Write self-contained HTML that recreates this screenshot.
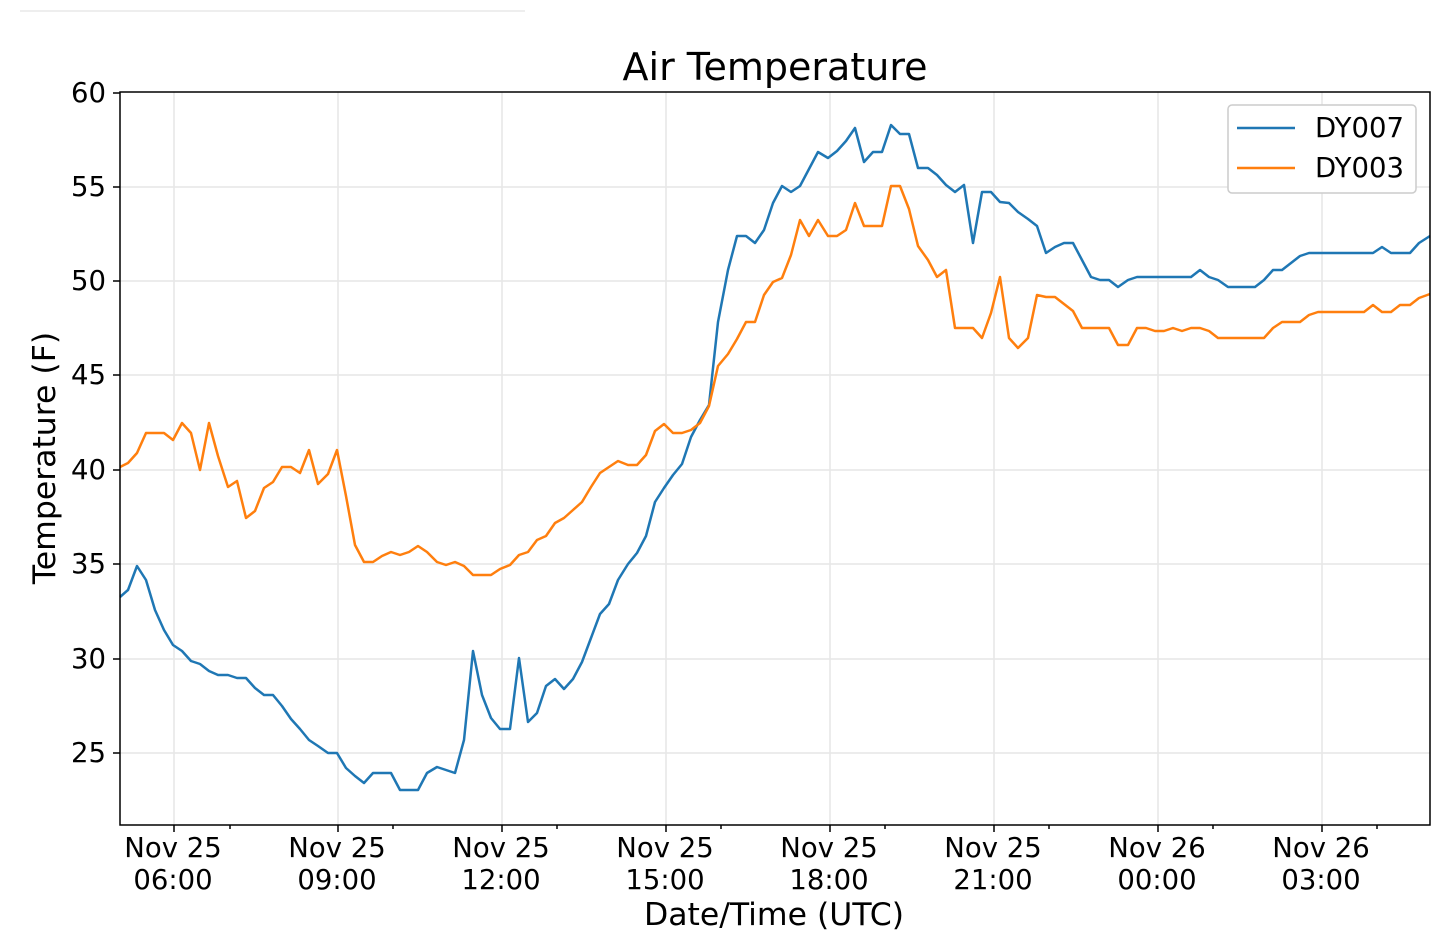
<!DOCTYPE html>
<html><head><meta charset="utf-8"><style>
body{margin:0;background:#fff;}
text{font-family:"DejaVu Sans","Liberation Sans",sans-serif;fill:#000;}
</style></head><body>
<svg width="1440" height="942" xmlns="http://www.w3.org/2000/svg">
<line x1="20" y1="11" x2="525" y2="11" stroke="#eee" stroke-width="2"/>
<g stroke="#e6e6e6" stroke-width="1.5">
<line x1="174" y1="92" x2="174" y2="825"/><line x1="338" y1="92" x2="338" y2="825"/><line x1="502" y1="92" x2="502" y2="825"/><line x1="666" y1="92" x2="666" y2="825"/><line x1="830" y1="92" x2="830" y2="825"/><line x1="994" y1="92" x2="994" y2="825"/><line x1="1158" y1="92" x2="1158" y2="825"/><line x1="1322" y1="92" x2="1322" y2="825"/>
<line x1="120" y1="187" x2="1430" y2="187"/><line x1="120" y1="281" x2="1430" y2="281"/><line x1="120" y1="375" x2="1430" y2="375"/><line x1="120" y1="470" x2="1430" y2="470"/><line x1="120" y1="564" x2="1430" y2="564"/><line x1="120" y1="659" x2="1430" y2="659"/><line x1="120" y1="753" x2="1430" y2="753"/>
</g>
<polyline fill="none" stroke="#1f77b4" stroke-width="2.5" stroke-linejoin="round" points="120,597 128,590 137,566 146,580 155,610 164,630 173,645 182,651 191,661 200,664 209,671 218,675 228,675 237,678 246,678 255,688 264,695 273,695 282,706 291,719 300,729 309,740 318,746 328,753 337,753 346,768 355,776 364,783 373,773 382,773 391,773 400,790 409,790 418,790 427,773 437,767 446,770 455,773 464,740 473,651 482,695 491,718 500,729 510,729 519,658 528,722 537,713 546,686 555,679 564,689 573,679 582,662 591,638 600,614 609,604 618,580 628,564 637,553 646,536 655,502 664,488 673,475 682,464 691,437 700,420 709,405 718,322 728,270 737,236 746,236 755,243 764,230 773,203 782,186 791,192 800,186 809,169 818,152 828,158 837,151 846,141 855,128 864,162 873,152 882,152 891,125 900,134 909,134 918,168 928,168 937,175 946,185 955,192 964,185 973,243 982,192 991,192 1000,202 1009,203 1018,212 1028,219 1037,226 1046,253 1055,247 1064,243 1073,243 1082,260 1091,277 1100,280 1109,280 1118,287 1128,280 1137,277 1146,277 1191,277 1200,270 1209,277 1218,280 1228,287 1255,287 1264,280 1273,270 1282,270 1291,263 1300,256 1309,253 1373,253 1382,247 1391,253 1410,253 1419,243 1430,236"/>
<polyline fill="none" stroke="#ff7f0e" stroke-width="2.5" stroke-linejoin="round" points="120,467 128,463 137,453 146,433 155,433 164,433 173,440 182,423 191,433 200,470 209,423 218,456 228,487 237,481 246,518 255,511 264,488 273,482 282,467 291,467 300,473 309,450 318,484 328,474 337,450 346,496 355,545 364,562 373,562 382,556 391,552 400,555 409,552 418,546 427,552 437,562 446,565 455,562 464,566 473,575 482,575 491,575 500,569 510,565 519,555 528,552 537,540 546,536 555,523 564,518 573,510 582,502 591,487 600,473 609,467 618,461 628,465 637,465 646,455 655,431 664,424 673,433 682,433 691,430 700,423 709,406 718,366 728,354 737,339 746,322 755,322 764,295 773,282 782,278 791,255 800,220 809,236 818,220 828,236 837,236 846,230 855,203 864,226 873,226 882,226 891,186 900,186 909,209 918,246 928,260 937,277 946,270 955,328 973,328 982,338 991,313 1000,277 1009,338 1018,348 1028,338 1037,295 1046,297 1055,297 1064,304 1073,311 1082,328 1109,328 1118,345 1128,345 1137,328 1146,328 1155,331 1164,331 1173,328 1182,331 1191,328 1200,328 1209,331 1218,338 1264,338 1273,328 1282,322 1300,322 1309,315 1318,312 1364,312 1373,305 1382,312 1391,312 1400,305 1410,305 1419,298 1430,294"/>
<rect x="120" y="92" width="1310" height="733" fill="none" stroke="#000" stroke-width="1.5"/>
<g stroke="#000" stroke-width="1.5">
<line x1="174" y1="825" x2="174" y2="832"/><line x1="338" y1="825" x2="338" y2="832"/><line x1="502" y1="825" x2="502" y2="832"/><line x1="666" y1="825" x2="666" y2="832"/><line x1="830" y1="825" x2="830" y2="832"/><line x1="994" y1="825" x2="994" y2="832"/><line x1="1158" y1="825" x2="1158" y2="832"/><line x1="1322" y1="825" x2="1322" y2="832"/>
<line x1="230" y1="825" x2="230" y2="829"/><line x1="393" y1="825" x2="393" y2="829"/><line x1="557" y1="825" x2="557" y2="829"/><line x1="721" y1="825" x2="721" y2="829"/><line x1="885" y1="825" x2="885" y2="829"/><line x1="1049" y1="825" x2="1049" y2="829"/><line x1="1213" y1="825" x2="1213" y2="829"/><line x1="1377" y1="825" x2="1377" y2="829"/>
<line x1="113" y1="93" x2="120" y2="93"/><line x1="113" y1="187" x2="120" y2="187"/><line x1="113" y1="281" x2="120" y2="281"/><line x1="113" y1="375" x2="120" y2="375"/><line x1="113" y1="470" x2="120" y2="470"/><line x1="113" y1="564" x2="120" y2="564"/><line x1="113" y1="659" x2="120" y2="659"/><line x1="113" y1="753" x2="120" y2="753"/>
</g>
<g font-size="27.5" text-anchor="end">
<text x="106" y="102">60</text><text x="106" y="196">55</text><text x="106" y="290">50</text><text x="106" y="384">45</text><text x="106" y="479">40</text><text x="106" y="573">35</text><text x="106" y="668">30</text><text x="106" y="762">25</text>
</g>
<g font-size="27.5" text-anchor="middle">
<text x="173" y="857">Nov 25</text><text x="173" y="889">06:00</text>
<text x="337" y="857">Nov 25</text><text x="337" y="889">09:00</text>
<text x="501" y="857">Nov 25</text><text x="501" y="889">12:00</text>
<text x="665" y="857">Nov 25</text><text x="665" y="889">15:00</text>
<text x="829" y="857">Nov 25</text><text x="829" y="889">18:00</text>
<text x="993" y="857">Nov 25</text><text x="993" y="889">21:00</text>
<text x="1157" y="857">Nov 26</text><text x="1157" y="889">00:00</text>
<text x="1321" y="857">Nov 26</text><text x="1321" y="889">03:00</text>
<text x="774" y="925" font-size="31.5">Date/Time (UTC)</text>
<text x="775" y="80" font-size="38">Air Temperature</text>
<text transform="translate(55,458) rotate(-90)" font-size="31.5">Temperature (F)</text>
</g>
<rect x="1228" y="105" width="188" height="88" rx="4" fill="#fff" stroke="#ccc" stroke-width="1.5"/>
<line x1="1237" y1="128" x2="1295" y2="128" stroke="#1f77b4" stroke-width="2.5"/>
<line x1="1237" y1="168" x2="1295" y2="168" stroke="#ff7f0e" stroke-width="2.5"/>
<text x="1315" y="137" font-size="27.5">DY007</text>
<text x="1315" y="177" font-size="27.5">DY003</text>
</svg>
</body></html>
